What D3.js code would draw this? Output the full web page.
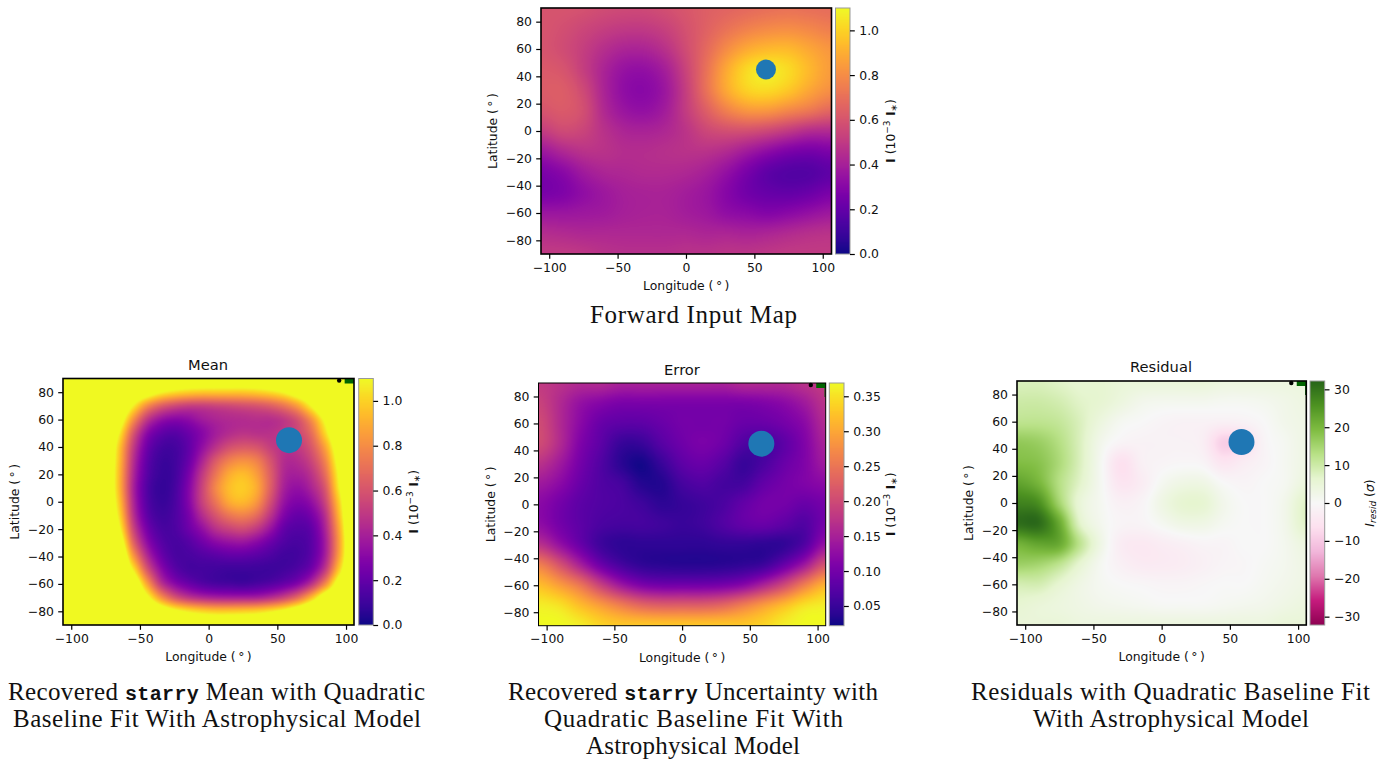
<!DOCTYPE html>
<html><head><meta charset="utf-8">
<script src="https://cdnjs.cloudflare.com/ajax/libs/d3/7.8.5/d3.min.js"></script>
<style>html,body{margin:0;padding:0;background:#fff;overflow:hidden}svg{display:block}</style></head>
<body><svg id="chart" width="1393" height="762"></svg>
<script>
const xTicks=[-100,-50,0,50,100];
const yTicks=[-80,-60,-40,-20,0,20,40,60,80];
const lon15=[-105,-90,-75,-60,-45,-30,-15,0,15,30,45,60,75,90,105];
const lat15=[90,75,60,45,30,15,0,-15,-30,-45,-60,-75,-90];
const lon10=[-105,-95,-85,-75,-65,-55,-45,-35,-25,-15,-5,5,15,25,35,45,55,65,75,85,95,105];
const lat10=[90,80,70,60,50,40,30,20,10,0,-10,-20,-30,-40,-50,-60,-70,-80,-90];
const forwardValues=[
[.60,.60,.59,.57,.56,.56,.58,.61,.64,.66,.68,.70,.71,.70,.69],
[.60,.58,.55,.52,.50,.50,.53,.59,.65,.71,.76,.79,.80,.78,.75],
[.60,.57,.52,.46,.42,.42,.47,.57,.68,.80,.89,.93,.93,.88,.83],
[.62,.60,.52,.42,.35,.34,.40,.54,.71,.89,1.02,1.06,1.02,.93,.85],
[.63,.63,.56,.42,.33,.31,.37,.52,.71,.89,1.00,1.02,.97,.88,.81],
[.60,.62,.58,.44,.36,.34,.39,.51,.64,.76,.83,.83,.78,.73,.67],
[.51,.56,.54,.47,.42,.41,.43,.48,.55,.58,.58,.55,.50,.45,.44],
[.37,.43,.47,.47,.45,.45,.46,.47,.47,.44,.38,.32,.27,.25,.27],
[.27,.31,.38,.42,.43,.44,.44,.43,.40,.34,.26,.19,.16,.16,.19],
[.26,.28,.33,.37,.40,.41,.41,.39,.36,.30,.24,.21,.20,.22,.26],
[.36,.36,.37,.38,.40,.41,.41,.39,.37,.33,.31,.29,.31,.34,.37],
[.45,.44,.43,.43,.43,.43,.43,.43,.42,.42,.41,.42,.44,.46,.47],
[.50,.50,.49,.47,.46,.46,.46,.47,.47,.48,.48,.49,.50,.50,.50]];
const meanValues=[
[1.4,1.4,1.4,1.4,1.4,1.4,1.4,1.4,1.35,1.3,1.3,1.3,1.3,1.3,1.3,1.35,1.4,1.4,1.4,1.4,1.4,1.4],
[1.4,1.4,1.4,1.4,1.4,1.32,1.22,1.1,1.03,.99,.97,.97,.97,.97,.99,1.03,1.1,1.22,1.32,1.4,1.4,1.4],
[1.4,1.4,1.4,1.4,1.35,1.08,.8,.64,.56,.52,.52,.54,.56,.58,.6,.64,.72,.86,1.1,1.35,1.4,1.4],
[1.4,1.4,1.4,1.4,1.22,.82,.5,.35,.3,.32,.38,.42,.44,.45,.46,.46,.5,.6,.82,1.14,1.4,1.4],
[1.4,1.4,1.4,1.4,1.08,.62,.32,.2,.17,.22,.3,.39,.45,.48,.47,.47,.5,.55,.7,1.02,1.35,1.4],
[1.4,1.4,1.4,1.36,.98,.52,.24,.13,.12,.19,.33,.47,.58,.62,.6,.52,.47,.5,.62,.88,1.25,1.4],
[1.4,1.4,1.4,1.33,.95,.47,.2,.1,.11,.21,.41,.62,.76,.81,.76,.6,.45,.45,.55,.78,1.18,1.4],
[1.4,1.4,1.4,1.32,.93,.44,.18,.09,.11,.25,.49,.72,.89,.94,.85,.64,.43,.4,.48,.7,1.12,1.4],
[1.4,1.4,1.4,1.32,.93,.42,.16,.08,.12,.28,.53,.78,.94,.98,.89,.64,.4,.34,.42,.62,1.08,1.4],
[1.4,1.4,1.4,1.33,.97,.44,.17,.09,.13,.28,.52,.72,.89,.93,.83,.58,.35,.28,.34,.55,1.0,1.4],
[1.4,1.4,1.4,1.35,1.03,.48,.2,.11,.14,.25,.44,.6,.72,.76,.68,.48,.28,.21,.26,.47,.94,1.4],
[1.4,1.4,1.4,1.38,1.12,.56,.26,.14,.14,.22,.33,.46,.53,.56,.49,.35,.2,.16,.2,.42,.88,1.38],
[1.4,1.4,1.4,1.4,1.25,.68,.34,.18,.13,.16,.23,.3,.34,.35,.3,.22,.15,.13,.18,.39,.85,1.35],
[1.4,1.4,1.4,1.4,1.36,.86,.46,.24,.14,.13,.15,.17,.19,.19,.17,.14,.11,.12,.19,.41,.88,1.35],
[1.4,1.4,1.4,1.4,1.4,1.08,.63,.34,.19,.13,.12,.11,.1,.1,.1,.1,.12,.16,.26,.52,1.0,1.38],
[1.4,1.4,1.4,1.4,1.4,1.3,.88,.5,.32,.23,.17,.14,.13,.12,.14,.17,.22,.3,.48,.8,1.22,1.4],
[1.4,1.4,1.4,1.4,1.4,1.4,1.15,.84,.62,.5,.44,.41,.4,.4,.41,.46,.55,.7,.95,1.25,1.4,1.4],
[1.4,1.4,1.4,1.4,1.4,1.4,1.38,1.26,1.14,1.06,1.01,.98,.98,.99,1.01,1.06,1.14,1.26,1.38,1.4,1.4,1.4],
[1.4,1.4,1.4,1.4,1.4,1.4,1.4,1.4,1.35,1.3,1.3,1.3,1.3,1.3,1.3,1.35,1.4,1.4,1.4,1.4,1.4,1.4]];
const errorValues=[
[.18,.17,.16,.16,.15,.15,.15,.15,.15,.15,.16,.16,.16,.17,.18],
[.19,.16,.13,.115,.105,.105,.105,.105,.105,.105,.105,.11,.12,.14,.17],
[.20,.16,.12,.09,.08,.08,.09,.10,.10,.10,.09,.09,.10,.12,.16],
[.20,.16,.11,.08,.05,.05,.075,.095,.105,.095,.07,.06,.08,.11,.15],
[.17,.14,.10,.07,.04,.026,.05,.08,.09,.075,.05,.065,.09,.11,.14],
[.14,.12,.09,.07,.06,.036,.035,.06,.07,.06,.06,.085,.10,.11,.12],
[.12,.10,.08,.07,.065,.055,.042,.048,.055,.065,.085,.10,.10,.09,.10],
[.125,.10,.08,.065,.06,.06,.055,.05,.055,.07,.085,.09,.08,.07,.10],
[.17,.13,.09,.055,.042,.042,.042,.042,.042,.045,.045,.042,.045,.07,.13],
[.26,.21,.15,.095,.062,.045,.04,.038,.038,.04,.045,.055,.09,.14,.21],
[.32,.29,.25,.19,.14,.11,.1,.1,.1,.105,.12,.155,.20,.26,.31],
[.36,.35,.32,.29,.26,.235,.225,.225,.225,.235,.26,.29,.32,.35,.36],
[.37,.37,.36,.34,.33,.33,.33,.33,.33,.33,.33,.34,.36,.37,.37]];
const residualValues=[
[8,8,7,6,6,5,5,5,5,5,4,4,4,4,4],
[10,10,9,7,6,4,2,1.5,1.5,1.5,1,1,1.5,2.5,3.5],
[12,12,11,8,4,1,0,-1,-1.5,-1.5,-2,-1.5,0,2,3],
[17,16,13,8,2,-1,-1.5,-1.5,-1.5,-2.5,-9,-7,-1,1,3],
[19,18,14,8,1,-6,-2,-1,-.5,-1,-5,-3,-1,1,3],
[23,20,13,7,1,-5,-3,1,3,3,0,-1,0,1,4],
[28,26,15,5,1,-2,-1,3,6,6,2,0,0,2,7],
[31,31,22,7,1.5,-1,-1,1,3,3,1,0,0,2,7],
[21,23,22,12,3,-3,-4,-3,-2,-1,-1,0,0,1.5,4],
[16,15,12,6,1,-2,-3.5,-3.5,-3,-2,-1,-.5,.5,1.5,3],
[9,9,6,3,1,0,-.5,-1,-1,-.5,0,0,1,2,3],
[6,5,4,3,2,1.5,1,.5,.5,.5,1,1.5,2,3,4],
[5,5,5,4,4,4,4,4,4,4,4,4,4,5,5]];
const piyg=["#8e0152","#c51b7d","#de77ae","#f1b6da","#fde0ef","#f7f7f7","#e6f5d0","#b8e186","#7fbc41","#4d9221","#276419"];
const spot=[58.5,45];
const obsDot=[95,88.5];

const plasma=d=>d3.scaleSequential(d3.interpolatePlasma).domain(d).clamp(true);
const piygScale=d=>d3.scaleLinear().domain(d3.range(11).map(i=>d[0]+(d[1]-d[0])*i/10)).range(piyg).clamp(true);

const panels=[
 {title:null,lons:lon15,lats:lat15,values:forwardValues,box:[541,831.5,8,254],lonD:[-106,106.4],cbar:[835.5,850],cD:[0,1.1],cTicks:[0,.2,.4,.6,.8,1],fmt:".1f",scale:plasma,r:10,sw:1.6,label:"I",labelX:895,
  caption:[["Forward Input Map",590,797,323]]},
 {title:["Mean",208,370],lons:lon10,lats:lat10,values:meanValues,box:[63,354,378.5,625],lonD:[-106,105.8],cbar:[358.7,373.3],cD:[0,1.1],cTicks:[0,.2,.4,.6,.8,1],fmt:".1f",scale:plasma,r:13,sw:1.6,label:"I",labelX:418,obs:true,
  caption:[["Recovered |starry| Mean with Quadratic",8,425,700],["Baseline Fit With Astrophysical Model",13,421,727]]},
 {title:["Error",682,375],lons:lon15,lats:lat15,values:errorValues,box:[538.5,825.7,383,625.7],lonD:[-106,106],cbar:[829.3,844],cD:[.0218,.369],cTicks:[.05,.1,.15,.2,.25,.3,.35],fmt:".2f",scale:plasma,r:13,sw:1,label:"I",labelX:895,obs:true,greenTail:true,
  caption:[["Recovered |starry| Uncertainty with",508,878,700],["Quadratic Baseline Fit With",544,843,727],["Astrophysical Model",586,800,754]]},
 {title:["Residual",1161,372],lons:lon15,lats:lat15,values:residualValues,box:[1017,1306.3,381,625],lonD:[-106,106],cbar:[1310,1324.7],cD:[-32.2,32.2],cTicks:[-30,-20,-10,0,10,20,30],fmt:"d",scale:piygScale,r:13,sw:1.6,label:"R",labelX:1374,obs:true,greenTail:true,
  caption:[["Residuals with Quadratic Baseline Fit",971,1370,700],["With Astrophysical Model",1033,1309,727]]}
];

function cr(p0,p1,p2,p3,t){return .5*((2*p1)+(-p0+p2)*t+(2*p0-5*p1+4*p2-p3)*t*t+(-p0+3*p1-3*p2+p3)*t*t*t);}
function sampler(lons,lats,g){
 const ny=lats.length,nx=lons.length;
 const fx=d3.scaleLinear().domain([lons[0],lons[nx-1]]).range([0,nx-1]).clamp(true);
 const fy=d3.scaleLinear().domain([lats[0],lats[ny-1]]).range([0,ny-1]).clamp(true);
 const at=(j,i)=>g[Math.max(0,Math.min(ny-1,j))][Math.max(0,Math.min(nx-1,i))];
 return (lon,lat)=>{const X=fx(lon),Y=fy(lat),i=Math.min(nx-2,Math.floor(X)),j=Math.min(ny-2,Math.floor(Y)),tx=X-i,ty=Y-j;
  const r=[];for(let m=-1;m<=2;m++)r.push(cr(at(j+m,i-1),at(j+m,i),at(j+m,i+1),at(j+m,i+2),tx));
  return cr(r[0],r[1],r[2],r[3],ty);};
}
const svg=d3.select("#chart");
const SANS="'DejaVu Sans',sans-serif";
function raster(w,h,fn){const c=document.createElement("canvas");c.width=w;c.height=h;const x=c.getContext("2d"),im=x.createImageData(w,h);
 for(let py=0;py<h;py++)for(let px=0;px<w;px++){const col=d3.rgb(fn(px+.5,py+.5)),k=(py*w+px)*4;im.data[k]=col.r;im.data[k+1]=col.g;im.data[k+2]=col.b;im.data[k+3]=255;}
 x.putImageData(im,0,0);return c.toDataURL();}
function fit(sel,w){const n=sel.node(),cur=n.getComputedTextLength(),len=n.textContent.length;sel.attr("letter-spacing",((w-cur)/(len-1)).toFixed(3));}

panels.forEach(p=>{
 const [x0,x1,y0,y1]=p.box;
 const x=d3.scaleLinear().domain(p.lonD).range([x0,x1]);
 const y=d3.scaleLinear().domain([-90,90]).range([y1,y0]);
 const g=svg.append("g");
 const color=p.scale(p.cD);
 const s=sampler(p.lons,p.lats,p.values);
 const W=Math.round(x1-x0),H=Math.round(y1-y0);
 g.append("image").attr("x",x0).attr("y",y0).attr("width",x1-x0).attr("height",y1-y0).attr("preserveAspectRatio","none")
  .attr("href",raster(W,H,(px,py)=>color(s(x.invert(x0+px*(x1-x0)/W),y.invert(y0+py*(y1-y0)/H)))));
 g.append("circle").attr("cx",x(spot[0])).attr("cy",y(spot[1])).attr("r",p.r).attr("fill","#1f77b4");
 if(p.obs){
  g.append("circle").attr("cx",x(obsDot[0])).attr("cy",y(obsDot[1])).attr("r",2.2).attr("fill","#000");
  g.append("rect").attr("x",x(99)).attr("y",y0).attr("width",x1-x(99)).attr("height",5).attr("fill","#006400");
  if(p.greenTail)g.append("rect").attr("x",x1-1.2).attr("y",y0).attr("width",1).attr("height",14).attr("fill","#006400");
 }
 g.append("rect").attr("x",x0).attr("y",y0).attr("width",x1-x0).attr("height",y1-y0).attr("fill","none").attr("stroke","#000").attr("stroke-width",p.sw);
 const style=a=>{a.attr("font-family",SANS).attr("font-size",12.4).attr("color","#000");a.select(".domain").remove();a.selectAll(".tick line").attr("stroke-width",1.2).attr("stroke","#000");a.selectAll("text").attr("fill","#111");};
 g.append("g").attr("transform",`translate(0,${y1})`).call(d3.axisBottom(x).tickValues(xTicks).tickSize(4.8).tickPadding(4.2)).call(style);
 g.append("g").attr("transform",`translate(${x0},0)`).call(d3.axisLeft(y).tickValues(yTicks).tickSize(4.8).tickPadding(4.2)).call(style);
 g.append("text").attr("x",(x0+x1)/2).attr("y",y1+36).attr("text-anchor","middle").attr("font-family",SANS).attr("font-size",12.4).attr("fill","#111").text("Longitude (\u2009\u00b0\u2009)");
 const ymid=(y0+y1)/2;
 g.append("text").attr("transform",`translate(${x0-44},${ymid}) rotate(-90)`).attr("text-anchor","middle").attr("font-family",SANS).attr("font-size",12.4).attr("fill","#111").text("Latitude (\u2009\u00b0\u2009)");
 const [c0,c1]=p.cbar;
 const cy=d3.scaleLinear().domain(p.cD).range([y1,y0]);
 g.append("image").attr("x",c0).attr("y",y0).attr("width",c1-c0).attr("height",y1-y0).attr("preserveAspectRatio","none")
  .attr("href",raster(4,H,(px,py)=>color(cy.invert(y0+py*(y1-y0)/H))));
 g.append("rect").attr("x",c0).attr("y",y0).attr("width",c1-c0).attr("height",y1-y0).attr("fill","none").attr("stroke","#999").attr("stroke-width",1);
 g.append("g").attr("transform",`translate(${c1},0)`).call(d3.axisRight(cy).tickValues(p.cTicks).tickFormat(d3.format(p.fmt)).tickSize(4.8).tickPadding(4.5)).call(style);
 const lab=g.append("text").attr("transform",`translate(${p.labelX},${ymid}) rotate(-90)`).attr("text-anchor","middle").attr("font-family",SANS).attr("font-size",12.4).attr("fill","#111");
 if(p.label==="I"){
  lab.append("tspan").attr("font-weight","bold").text("I");
  lab.append("tspan").text(" (10");
  lab.append("tspan").attr("dy",-5).attr("font-size",9).text("\u22123");
  lab.append("tspan").attr("dy",5).attr("font-weight","bold").text(" I");
  lab.append("tspan").attr("dy",2).attr("font-size",9).text("\u2217");
  lab.append("tspan").attr("dy",-2).text(")");
 } else {
  lab.append("tspan").attr("font-style","italic").text("I");
  lab.append("tspan").attr("dy",2).attr("font-size",9).attr("font-style","italic").text("resid");
  lab.append("tspan").attr("dy",-2).text(" (");
  lab.append("tspan").attr("font-style","italic").text("\u03c3");
  lab.append("tspan").text(")");
 }
 if(p.title)g.append("text").attr("x",p.title[1]).attr("y",p.title[2]).attr("text-anchor","middle").attr("font-family",SANS).attr("font-size",14.7).attr("fill","#111").text(p.title[0]);
 p.caption.forEach(([txt,a,b,base])=>{
  const t=g.append("text").attr("x",a).attr("y",base).attr("font-family","'Liberation Serif',serif").attr("font-size",25).attr("fill","#111");
  txt.split("|").forEach((part,i)=>{const sp=t.append("tspan").text(part);if(i===1)sp.attr("font-family","'Liberation Mono',monospace").attr("font-weight","bold").attr("font-size",20);});
  fit(t,b-a);
 });
});
</script></body></html>
